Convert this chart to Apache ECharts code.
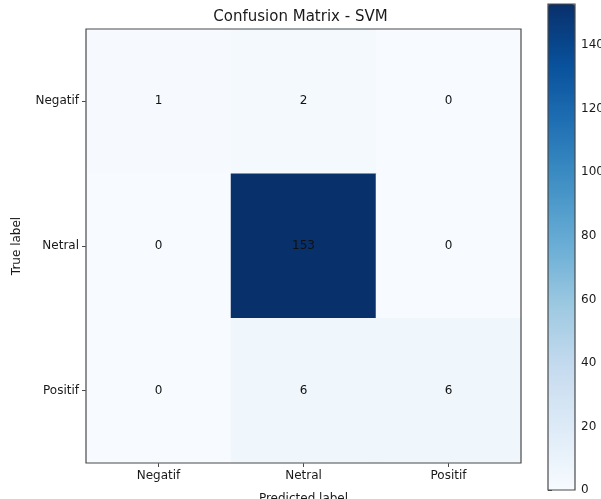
<!DOCTYPE html>
<html>
<head>
<meta charset="utf-8">
<script src="https://cdn.jsdelivr.net/npm/echarts@6/dist/echarts.min.js"></script>
<style>
  html, body { margin: 0; padding: 0; background: #fff; }
  #chart { width: 601px; height: 499px; }
</style>
</head>
<body>
<div id="chart"></div>
<script>
  // confusion matrix, rows = true label, cols = predicted label
  var labels = ["Negatif", "Netral", "Positif"];
  var matrix = [
    [1, 2, 0],
    [0, 153, 0],
    [0, 6, 6]
  ];
  var colorbarTicks = [0, 20, 40, 60, 80, 100, 120, 140];

  // matplotlib "Blues"
  var blues = ["#f7fbff", "#deebf7", "#c6dbef", "#9ecae1", "#6baed6",
               "#4292c6", "#2171b5", "#08519c", "#08306b"];

  var cells = [];
  matrix.forEach(function (row, i) {
    row.forEach(function (v, j) {
      cells.push([j, i, v]);
    });
  });
  var vmax = Math.max.apply(null, cells.map(function (c) { return c[2]; }));

  var font = "DejaVu Sans";
  var axisColor = "#4a4a4a";
  var textColor = "#1a1a1a";

  var chart = echarts.init(document.getElementById("chart"));
  chart.setOption({
    animation: false,
    textStyle: { fontFamily: font },
    title: {
      text: "Confusion Matrix - SVM",
      left: "center",
      top: 5,
      textStyle: { fontFamily: font, fontSize: 15, fontWeight: "normal", color: textColor }
    },
    grid: [
      { left: 86, top: 29, width: 435, height: 434, show: true, z: 5,
        outerBoundsMode: "none",
        borderColor: axisColor, borderWidth: 1.2, backgroundColor: "transparent" },
      { left: 548, top: 4, width: 27, height: 486, show: true, z: 5,
        outerBoundsMode: "none",
        borderColor: axisColor, borderWidth: 1.2, backgroundColor: "transparent" }
    ],
    xAxis: [
      {
        type: "category", data: labels, gridIndex: 0,
        name: "Predicted label", nameLocation: "middle", nameGap: 30,
        nameTextStyle: { fontSize: 12, color: textColor },
        axisLine: { show: false },
        axisTick: { show: true, alignWithLabel: true, length: 4, lineStyle: { color: axisColor } },
        axisLabel: { fontSize: 12, color: textColor, margin: 7 },
        splitLine: { show: false }
      },
      { type: "value", gridIndex: 1, show: false, min: 0, max: 1 }
    ],
    yAxis: [
      {
        type: "category", data: labels, gridIndex: 0, inverse: true,
        name: "True label", nameLocation: "middle", nameGap: 63,
        nameTextStyle: { fontSize: 12, color: textColor },
        axisLine: { show: false },
        axisTick: { show: true, alignWithLabel: true, length: 4, lineStyle: { color: axisColor } },
        axisLabel: { fontSize: 12, color: textColor, margin: 7 },
        splitLine: { show: false }
      },
      {
        type: "value", gridIndex: 1, position: "right", min: 0, max: vmax, interval: 20,
        axisLine: { show: false },
        axisTick: { show: true, length: 4, lineStyle: { color: axisColor } },
        axisLabel: { fontSize: 12, color: textColor, margin: 6,
          formatter: function (v) { return colorbarTicks.indexOf(v) >= 0 ? String(v) : ""; } },
        splitLine: { show: false }
      }
    ],
    visualMap: {
      type: "continuous",
      seriesIndex: 0,
      min: 0, max: vmax,
      calculable: false,
      hoverLink: false,
      orient: "vertical",
      left: 548, top: 4,
      padding: 0,
      itemWidth: 27, itemHeight: 486,
      text: null, showLabel: false,
      inRange: { color: blues }
    },
    series: [
      {
        type: "heatmap",
        xAxisIndex: 0, yAxisIndex: 0,
        data: cells,
        label: { show: true, fontSize: 12, color: "#111", fontFamily: font },
        itemStyle: { borderWidth: 0 },
        emphasis: { disabled: true }
      },
      { type: "line", xAxisIndex: 1, yAxisIndex: 1, data: [] }
    ]
  });
</script>
</body>
</html>
